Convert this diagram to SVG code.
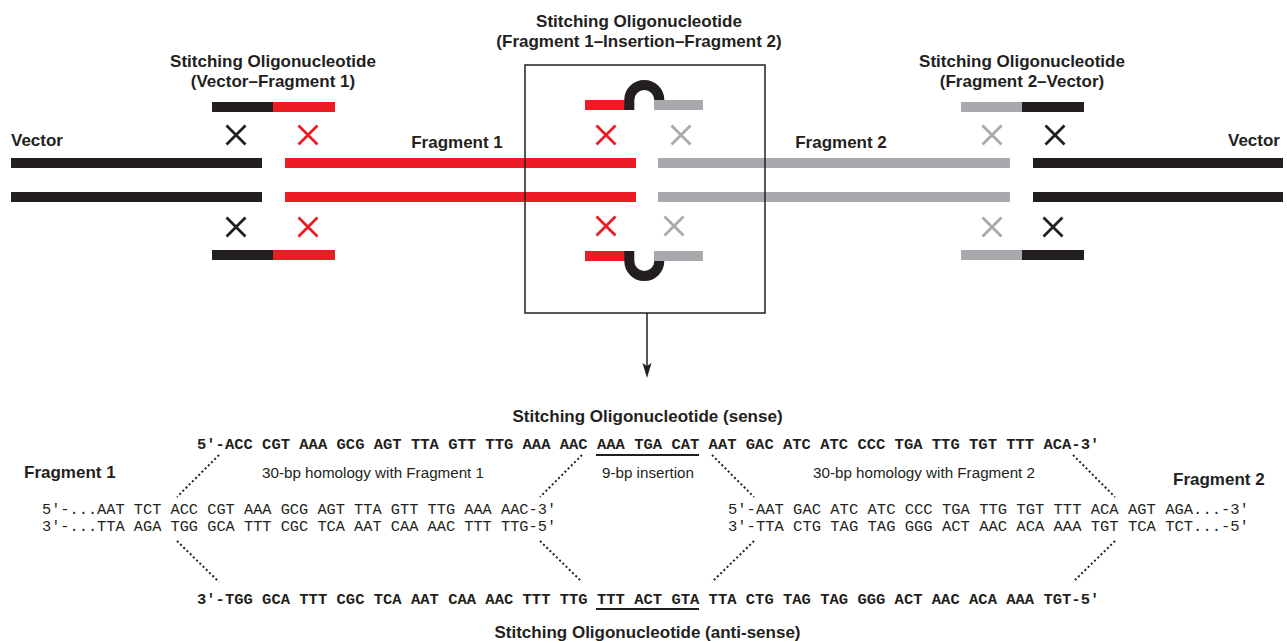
<svg xmlns="http://www.w3.org/2000/svg" width="1287" height="641" viewBox="0 0 1287 641">
<defs>
<style>
.lbl{font-family:"Liberation Sans",Arial,sans-serif;font-weight:bold;font-size:17px;fill:#231f20}
.reg{font-family:"Liberation Sans",Arial,sans-serif;font-size:15.2px;fill:#231f20}
.mono{font-family:"Liberation Mono","Courier New",monospace;fill:#231f20}
.mb{font-weight:bold;font-size:15.5px}
.blk{fill:#231f20}.red{fill:#ed1c24}.gry{fill:#a7a9ac}
.xb{stroke:#231f20;stroke-width:2.8;fill:none}
.xr{stroke:#ed1c24;stroke-width:2.8;fill:none}
.xg{stroke:#a7a9ac;stroke-width:2.8;fill:none}
.loop{stroke:#231f20;stroke-width:10;fill:none}
.dot{stroke:#231f20;stroke-width:2;stroke-dasharray:2 2.5;fill:none}
.ul{stroke:#231f20;stroke-width:2}
.box{fill:none;stroke:#231f20;stroke-width:1.5}
</style>
<path id="x" d="M-9.5,-9.5 L9.5,9.5 M9.5,-9.5 L-9.5,9.5"/>
<marker id="ah" markerUnits="userSpaceOnUse" viewBox="0 0 15 10" refX="3" refY="5" markerWidth="15" markerHeight="10" orient="auto">
<path d="M0,0.5 L15,5 L0,9.5 L3,5 z" fill="#231f20"/>
</marker>
</defs>

<g id="vector-left">
<rect class="blk" x="11" y="158" width="251" height="10"/>
<rect class="blk" x="11" y="192" width="251" height="10"/>
<text class="lbl" x="11" y="146">Vector</text>
</g>
<g id="fragment-1">
<rect class="red" x="285" y="158" width="351" height="10"/>
<rect class="red" x="285" y="192" width="351" height="10"/>
<text class="lbl" x="457" y="148" text-anchor="middle">Fragment 1</text>
</g>
<g id="fragment-2">
<rect class="gry" x="658" y="158" width="352" height="10"/>
<rect class="gry" x="658" y="192" width="352" height="10"/>
<text class="lbl" x="841" y="148" text-anchor="middle">Fragment 2</text>
</g>
<g id="vector-right">
<rect class="blk" x="1033" y="158" width="250" height="10"/>
<rect class="blk" x="1033" y="192" width="250" height="10"/>
<text class="lbl" x="1280" y="146" text-anchor="end">Vector</text>
</g>

<g id="oligo-vector-fragment1">
<text class="lbl" x="273" y="67" text-anchor="middle">Stitching Oligonucleotide</text>
<text class="lbl" x="273" y="87" text-anchor="middle">(Vector–Fragment 1)</text>
<rect class="blk" x="212" y="102" width="61" height="10"/>
<rect class="red" x="273" y="102" width="62" height="10"/>
<rect class="blk" x="212" y="250" width="61" height="10"/>
<rect class="red" x="273" y="250" width="62" height="10"/>
<use href="#x" x="236" y="135" class="xb"/>
<use href="#x" x="308" y="135" class="xr"/>
<use href="#x" x="236" y="227" class="xb"/>
<use href="#x" x="308" y="227" class="xr"/>
</g>

<g id="oligo-fragment1-insertion-fragment2">
<rect class="box" x="525" y="65" width="240" height="248"/>
<text class="lbl" x="639" y="27" text-anchor="middle">Stitching Oligonucleotide</text>
<text class="lbl" x="639" y="47" text-anchor="middle">(Fragment 1–Insertion–Fragment 2)</text>
<rect class="red" x="585" y="100" width="49" height="10"/>
<path class="loop" d="M629.3,110 V100 A15,15 0 0 1 659.3,100 V110"/>
<rect class="gry" x="654" y="100" width="49" height="10"/>
<rect class="red" x="585" y="251" width="49" height="10"/>
<path class="loop" d="M629.3,251 V261 A15,15 0 0 0 659.3,261 V251"/>
<rect class="gry" x="654" y="251" width="49" height="10"/>
<use href="#x" x="606" y="135" class="xr"/>
<use href="#x" x="681" y="135" class="xg"/>
<use href="#x" x="606" y="226" class="xr"/>
<use href="#x" x="674" y="226" class="xg"/>
</g>

<g id="oligo-fragment2-vector">
<text class="lbl" x="1022" y="67" text-anchor="middle">Stitching Oligonucleotide</text>
<text class="lbl" x="1022" y="87" text-anchor="middle">(Fragment 2–Vector)</text>
<rect class="gry" x="961" y="102" width="61" height="10"/>
<rect class="blk" x="1022" y="102" width="62" height="10"/>
<rect class="gry" x="961" y="250" width="61" height="10"/>
<rect class="blk" x="1022" y="250" width="62" height="10"/>
<use href="#x" x="992" y="135" class="xg"/>
<use href="#x" x="1055" y="135" class="xb"/>
<use href="#x" x="992" y="227" class="xg"/>
<use href="#x" x="1053" y="227" class="xb"/>
</g>

<g id="sense-oligo">
<text class="lbl" x="647.5" y="422" text-anchor="middle">Stitching Oligonucleotide (sense)</text>
<text class="mono mb" x="197" y="449">5'-ACC CGT AAA GCG AGT TTA GTT TTG AAA AAC AAA TGA CAT AAT GAC ATC ATC CCC TGA TTG TGT TTT ACA-3'</text>
<line class="ul" x1="596" y1="455" x2="699" y2="455"/>
<text class="reg" x="373" y="478" text-anchor="middle">30-bp homology with Fragment 1</text>
<text class="reg" x="648" y="478" text-anchor="middle">9-bp insertion</text>
<text class="reg" x="924" y="478" text-anchor="middle">30-bp homology with Fragment 2</text>
</g>

<g id="fragment1-sequence">
<text class="lbl" x="24" y="478">Fragment 1</text>
<text class="mono" font-size="15.3" x="42" y="514">5'-...AAT TCT ACC CGT AAA GCG AGT TTA GTT TTG AAA AAC-3'</text>
<text class="mono" font-size="15.3" x="42" y="531">3'-...TTA AGA TGG GCA TTT CGC TCA AAT CAA AAC TTT TTG-5'</text>
</g>

<g id="fragment2-sequence">
<text class="lbl" x="1173" y="485">Fragment 2</text>
<text class="mono" font-size="15.5" x="728" y="514">5'-AAT GAC ATC ATC CCC TGA TTG TGT TTT ACA AGT AGA...-3'</text>
<text class="mono" font-size="15.5" x="728" y="531">3'-TTA CTG TAG TAG GGG ACT AAC ACA AAA TGT TCA TCT...-5'</text>
</g>

<g id="antisense-oligo">
<text class="mono mb" x="197" y="604">3'-TGG GCA TTT CGC TCA AAT CAA AAC TTT TTG TTT ACT GTA TTA CTG TAG TAG GGG ACT AAC ACA AAA TGT-5'</text>
<line class="ul" x1="596" y1="609" x2="699" y2="609"/>
<text class="lbl" x="647.5" y="638" text-anchor="middle">Stitching Oligonucleotide (anti-sense)</text>
</g>

<g id="connectors">
<line x1="647" y1="313" x2="647" y2="366" stroke="#231f20" stroke-width="1.5" marker-end="url(#ah)"/>
<line class="dot" x1="219" y1="455" x2="177" y2="497"/>
<line class="dot" x1="177" y1="541" x2="219" y2="582"/>
<line class="dot" x1="582" y1="455" x2="540" y2="497"/>
<line class="dot" x1="540" y1="541" x2="582" y2="582"/>
<line class="dot" x1="712" y1="455" x2="754" y2="497"/>
<line class="dot" x1="754" y1="541" x2="712" y2="582"/>
<line class="dot" x1="1073" y1="455" x2="1115" y2="497"/>
<line class="dot" x1="1115" y1="541" x2="1073" y2="582"/>
</g>
</svg>
